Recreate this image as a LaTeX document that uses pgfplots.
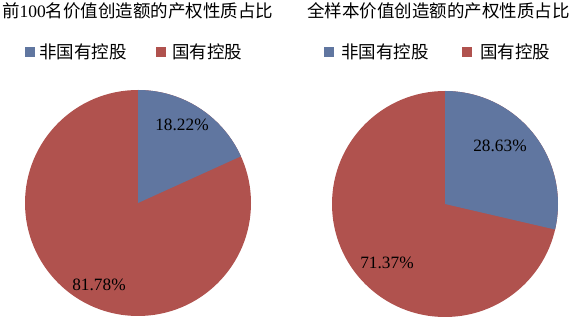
\documentclass[border=0pt]{standalone}
\usepackage{pgfplots}
\pgfplotsset{compat=1.18}
\usepackage{fontspec}
\setmainfont{Liberation Serif}
\newfontfamily\cjk{Noto Sans CJK SC}
\definecolor{nsoe}{HTML}{6076A0}
\definecolor{soe}{HTML}{B0524E}
% shares (%) of non-state-controlled firms
\def\topShare{18.22}
\def\allShare{28.63}
\pgfmathsetmacro{\topA}{-3.6*\topShare}
\pgfmathsetmacro{\allA}{-3.6*\allShare}
\begin{document}
\begin{tikzpicture}
\begin{axis}[width=571pt,height=318pt,scale only axis,
  xmin=0,xmax=571,ymin=0,ymax=318,hide axis,clip=false]
\path (rel axis cs:0,0) rectangle (rel axis cs:1,1);
% left pie
\fill[soe] (axis cs:138,115) circle[radius=113pt];
\fill[nsoe] (axis cs:138,115) -- ++(90:113pt) arc[start angle=90, delta angle=\topA, radius=113pt] -- cycle;
% right pie
\fill[soe] (axis cs:445,114) circle[radius=113pt];
\fill[nsoe] (axis cs:445,114) -- ++(90:113pt) arc[start angle=90, delta angle=\allA, radius=113pt] -- cycle;
% labels
\node[font=\fontsize{17.3}{20}\selectfont] at (axis cs:182,193) {18.22\%};
\node[font=\fontsize{17.3}{20}\selectfont] at (axis cs:99,33) {81.78\%};
\node[font=\fontsize{17.3}{20}\selectfont] at (axis cs:500,172) {28.63\%};
\node[font=\fontsize{17.3}{20}\selectfont] at (axis cs:387,55) {71.37\%};
% titles
\node[anchor=west,inner sep=0,font=\fontsize{17.5}{20}\selectfont] at (axis cs:2,307) {{\cjk 前}100{\cjk 名价值创造额的产权性质占比}};
\node[anchor=west,inner sep=0,font=\fontsize{17.5}{20}\selectfont\cjk] at (axis cs:307,307) {全样本价值创造额的产权性质占比};
% legends
\fill[nsoe] (axis cs:25,261) rectangle (axis cs:35,271);
\node[anchor=west,inner sep=0,font=\fontsize{17.5}{20}\selectfont\cjk] at (axis cs:39,266) {非国有控股};
\fill[soe] (axis cs:156,261) rectangle (axis cs:166,271);
\node[anchor=west,inner sep=0,font=\fontsize{17.5}{20}\selectfont\cjk] at (axis cs:172,266) {国有控股};
\fill[nsoe] (axis cs:324,261) rectangle (axis cs:334,271);
\node[anchor=west,inner sep=0,font=\fontsize{17.5}{20}\selectfont\cjk] at (axis cs:341,266) {非国有控股};
\fill[soe] (axis cs:462,261) rectangle (axis cs:472,271);
\node[anchor=west,inner sep=0,font=\fontsize{17.5}{20}\selectfont\cjk] at (axis cs:480,266) {国有控股};
\end{axis}
\end{tikzpicture}
\end{document}
